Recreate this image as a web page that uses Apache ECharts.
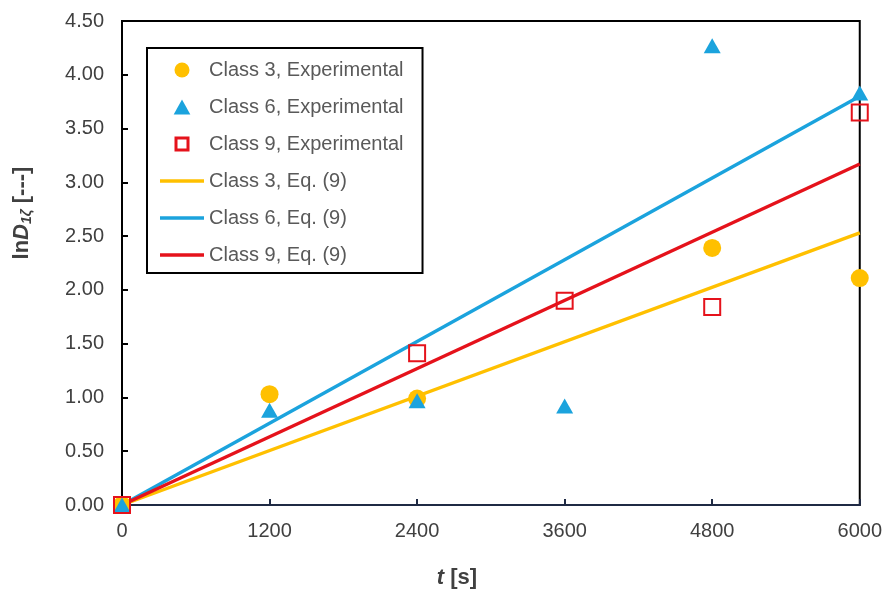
<!DOCTYPE html>
<html>
<head>
<meta charset="utf-8">
<script src="https://cdn.jsdelivr.net/npm/echarts@6/dist/echarts.min.js"></script>
<style>
  html, body { margin: 0; padding: 0; background: #fff; }
  #chart { width: 885px; height: 594px; }
</style>
</head>
<body>
<div id="chart"></div>
<script>
// data
var class3Exp = [[0, 0], [1200, 1.03], [2400, 0.99], [4800, 2.39], [6000, 2.11]];
var class6Exp = [[0, 0], [1200, 0.88], [2400, 0.97], [3600, 0.92], [4800, 4.27], [6000, 3.83]];
var class9Exp = [[0, 0], [2400, 1.41], [3600, 1.90], [4800, 1.84], [6000, 3.65]];
var class3Fit = [[0, 0], [6000, 2.53]];
var class6Fit = [[0, 0], [6000, 3.80]];
var class9Fit = [[0, 0], [6000, 3.17]];

var yellow = '#FFC000', blue = '#1BA3DD', red = '#E5121B';
var font = 'Liberation Sans, Arial, sans-serif';

// legend icons (kept to aspect)
var triIcon = 'path://M5,0L10,9L0,9Z';
var boxIcon = 'path://M0,0L10,0L10,10L0,10Z M2,2L2,8L8,8L8,2Z';
var lineIcon = 'path://M0,0L44,0L44,3.4L0,3.4Z';

var chart = echarts.init(document.getElementById('chart'));  // chart container

chart.setOption({
  animation: false,
  textStyle: { fontFamily: font },
  grid: { left: 122, right: 24, top: 21, bottom: 89, show: true, borderColor: '#000', borderWidth: 2 },
  legend: {
    orient: 'vertical',
    left: 147, top: 48,
    padding: [12, 19, 8, 13],
    itemWidth: 44, itemHeight: 15, itemGap: 17,
    symbolKeepAspect: true,
    backgroundColor: '#fff',
    borderColor: '#000', borderWidth: 2,
    textStyle: { color: '#595959', fontSize: 20, fontFamily: font },
    data: [
      { name: 'Class 3, Experimental', icon: 'circle' },
      { name: 'Class 6, Experimental', icon: triIcon },
      { name: 'Class 9, Experimental', icon: boxIcon, itemStyle: { color: red, borderWidth: 0 } },
      { name: 'Class 3, Eq. (9)', icon: lineIcon },
      { name: 'Class 6, Eq. (9)', icon: lineIcon },
      { name: 'Class 9, Eq. (9)', icon: lineIcon }
    ]
  },
  xAxis: {
    type: 'value', min: 0, max: 6000, interval: 1200,
    name: '{i|t} [s]', nameLocation: 'middle', nameGap: 62,
    nameTextStyle: { fontSize: 22, fontWeight: 'bold', color: '#404040', padding: [0, 68, 0, 0],
      rich: { i: { fontStyle: 'italic', fontWeight: 'bold', fontSize: 22, color: '#404040' } } },
    axisLine: { lineStyle: { color: '#1F2A44', width: 2 } },
    axisTick: { inside: true, length: 6, lineStyle: { color: '#1F2A44', width: 2 } },
    axisLabel: { color: '#404040', fontSize: 20, margin: 16,
      formatter: function (v) { return String(v); } },
    splitLine: { show: false }
  },
  yAxis: {
    type: 'value', min: 0, max: 4.5, interval: 0.5,
    name: 'ln{i|D}{s|1ζ} [---]', nameLocation: 'middle', nameGap: 88,
    nameTextStyle: { fontSize: 22, fontWeight: 'bold', color: '#404040', padding: [0, 0, 0, 100],
      rich: {
        i: { fontStyle: 'italic', fontWeight: 'bold', fontSize: 22, color: '#404040' },
        s: { fontStyle: 'italic', fontWeight: 'bold', fontSize: 14, color: '#404040', verticalAlign: 'bottom', padding: [10, 0, 0, 0] }
      } },
    axisLine: { lineStyle: { color: '#000', width: 2 } },
    axisTick: { inside: true, length: 6, lineStyle: { color: '#000', width: 2 } },
    axisLabel: { color: '#404040', fontSize: 20, margin: 18,
      formatter: function (v) { return v.toFixed(2); } },
    splitLine: { show: false }
  },
  series: [
    { name: 'Class 3, Eq. (9)', type: 'line', data: class3Fit, symbol: 'none', z: 2,
      lineStyle: { color: yellow, width: 3.4 }, itemStyle: { color: yellow } },
    { name: 'Class 6, Eq. (9)', type: 'line', data: class6Fit, symbol: 'none', z: 2,
      lineStyle: { color: blue, width: 3.4 }, itemStyle: { color: blue } },
    { name: 'Class 9, Eq. (9)', type: 'line', data: class9Fit, symbol: 'none', z: 2,
      lineStyle: { color: red, width: 3.4 }, itemStyle: { color: red } },
    { name: 'Class 3, Experimental', type: 'scatter', data: class3Exp, symbol: 'circle', symbolSize: 18, z: 3,
      itemStyle: { color: yellow, opacity: 1 } },
    { name: 'Class 6, Experimental', type: 'scatter', data: class6Exp, symbol: 'triangle', symbolSize: [17, 15], z: 4,
      itemStyle: { color: blue, opacity: 1 } },
    { name: 'Class 9, Experimental', type: 'scatter', data: class9Exp, symbol: 'rect', symbolSize: 16, z: 5,
      itemStyle: { color: 'rgba(255,255,255,0)', borderColor: red, borderWidth: 2, opacity: 1 } }
  ]
});
</script>
</body>
</html>
